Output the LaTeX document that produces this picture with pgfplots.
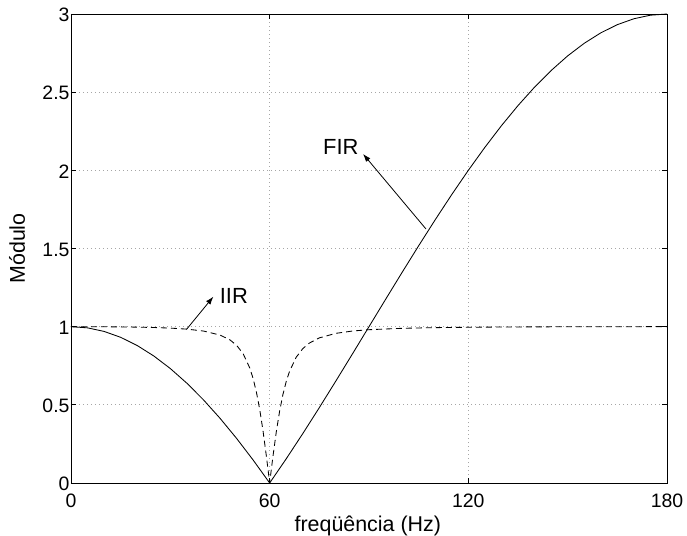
\documentclass[border=0pt]{standalone}
\usepackage{fontspec}
\setmainfont{Liberation Sans}
\usepackage{pgfplots}
\pgfplotsset{compat=1.18}
\usetikzlibrary{arrows.meta}
\begin{document}
\begin{tikzpicture}
\path[use as bounding box] (-71bp,-53bp) rectangle (616bp,483bp);
\begin{axis}[
  scale only axis,
  width=596bp, height=469bp,
  xmin=0, xmax=180, ymin=0, ymax=3,
  xtick={0,60,120,180},
  ytick={0,0.5,1,1.5,2,2.5,3},
  /pgf/number format/assume math mode=true,
  tick label style={font=\fontsize{19.5}{22}\selectfont},
  xticklabel style={yshift=-7bp},
  yticklabel style={xshift=2bp, yshift=-1bp},
  tick align=inside,
  major tick length=5bp,
  axis line style={line width=0.8bp},
  every tick/.style={line width=0.8bp, black},
  grid=major,
  grid style={line width=0.8bp, gray!70, dash pattern=on 0.8bp off 3.2bp},
  label style={font=\fontsize{21.5}{24}\selectfont},
  xlabel={freqüência (Hz)},
  ylabel={Módulo},
  xlabel style={at={(axis description cs:0.498,-0.104)}, anchor=base},
  ylabel style={at={(axis description cs:-0.0772,0.5)}, anchor=base},
]
\addplot[black, line width=0.85bp] coordinates {
(0,1) (5,0.99239) (10,0.96962) (15,0.93185) (20,0.87939) (25,0.81262)
(30,0.73205) (35,0.63830) (40,0.53209) (45,0.41421) (50,0.28558)
(55,0.14715) (60,0) (65,0.15476) (70,0.31596) (75,0.48236) (80,0.65270)
(85,0.82569) (90,1) (95,1.17431) (100,1.34730) (105,1.51764)
(110,1.68404) (115,1.84524) (120,2) (125,2.14715) (130,2.28558)
(135,2.41421) (140,2.53209) (145,2.63830) (150,2.73205) (155,2.81262)
(160,2.87939) (165,2.93185) (170,2.96962) (175,2.99239) (180,3)
};
\addplot[black, line width=0.85bp, dash pattern=on 6bp off 4bp] coordinates {
(0,1) (5,0.99985) (10,0.99936) (15,0.99846) (20,0.99699) (25,0.99463)
(30,0.99080) (35,0.98423) (40,0.97203) (45,0.94636) (48,0.91552)
(50,0.88120) (52,0.82642) (54,0.73537) (55,0.66824) (56,0.58107)
(57,0.46986) (58,0.33271) (59,0.17282) (59.5,0.08717) (60,0)
(60.5,0.08676) (61,0.17111) (62,0.32679) (63,0.45882) (64,0.56552)
(65,0.64932) (66,0.71436) (68,0.80406) (70,0.85945) (72,0.89515)
(75,0.92832) (80,0.95736) (85,0.97210) (90,0.98058) (100,0.98949)
(110,0.99383) (120,0.99627) (130,0.99776) (140,0.99871) (150,0.99933)
(160,0.99972) (170,0.99993) (180,1)
};
\draw[line width=0.8bp, -{Latex[length=8bp,width=5.5bp]}] (axis cs:107.2,1.625) -- (axis cs:88.2,2.105);
\node[font=\fontsize{22}{24}\selectfont] at (axis cs:81.5,2.15) {FIR};
\draw[line width=0.8bp, -{Latex[length=8bp,width=5.5bp]}] (axis cs:34.9,0.983) -- (axis cs:43.0,1.192);
\node[font=\fontsize{22}{24}\selectfont] at (axis cs:49.2,1.196) {IIR};
\end{axis}
\end{tikzpicture}
\end{document}
